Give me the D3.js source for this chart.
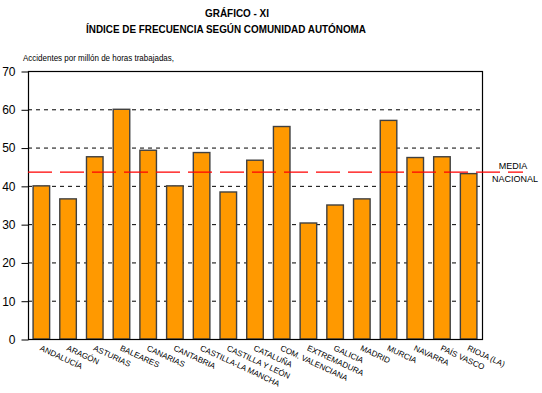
<!DOCTYPE html>
<html lang="es">
<head>
<meta charset="UTF-8">
<title>Gráfico XI</title>
<script src="https://d3js.org/d3.v7.min.js"></script>
<style>
  body { margin: 0; background: #fff; }
  svg { font-family: "Liberation Sans", Arial, sans-serif; display: block; }
  .grid { stroke: #000; stroke-dasharray: 4 4; }
  .bar { fill: #ff9900; stroke: #404040; stroke-width: 1.4px; }
  .media { stroke: #ff0000; stroke-width: 1.3px; stroke-dasharray: 24 8; fill: none; }
</style>
</head>
<body>
<svg></svg>
<script>
const [width, height] = [542, 393]
const margin = {left: 28, right: 60, top: 71, bottom: 54}

const comunidades = ["ANDALUCÍA", "ARAGÓN", "ASTURIAS", "BALEARES", "CANARIAS", "CANTABRIA",
  "CASTILLA-LA MANCHA", "CASTILLA Y LEÓN", "CATALUÑA", "COM. VALENCIANA", "EXTREMADURA",
  "GALICIA", "MADRID", "MURCIA", "NAVARRA", "PAÍS VASCO", "RIOJA (LA)"]
const indice = [40.0, 36.6, 47.6, 60.0, 49.3, 40.0, 48.7, 38.4, 46.7, 55.5, 30.3,
  35.0, 36.6, 57.1, 47.4, 47.6, 43.2]
const media = 43.6
const yTicks = [0, 10, 20, 30, 40, 50, 60, 70]

const svg = d3.select("svg").attr("width", width).attr("height", height)

const x = d3.scaleBand().domain(comunidades)
  .range([margin.left, width - margin.right])
  .paddingInner(0.38).paddingOuter(0.19)
const y = d3.scaleLinear().domain([0, 70]).range([height - margin.bottom, margin.top])

// titles
svg.append("text").attr("x", 237).attr("y", 17).attr("text-anchor", "middle")
  .attr("font-weight", "bold").attr("font-size", 11)
  .attr("textLength", 64).attr("lengthAdjust", "spacingAndGlyphs")
  .text("GRÁFICO - XI")
svg.append("text").attr("x", 226).attr("y", 33).attr("text-anchor", "middle")
  .attr("font-weight", "bold").attr("font-size", 11)
  .attr("textLength", 280).attr("lengthAdjust", "spacingAndGlyphs")
  .text("ÍNDICE DE FRECUENCIA SEGÚN COMUNIDAD AUTÓNOMA")
svg.append("text").attr("x", 23).attr("y", 61).attr("font-size", 9)
  .attr("textLength", 151).attr("lengthAdjust", "spacingAndGlyphs")
  .text("Accidentes por millón de horas trabajadas,")

// grid
svg.selectAll(".grid").data(yTicks.filter(d => d > 0 && d < 70)).join("line")
  .attr("class", "grid")
  .attr("x1", margin.left).attr("x2", width - margin.right)
  .attr("y1", d => y(d) + 0.5).attr("y2", d => y(d) + 0.5)

// bars
svg.selectAll(".bar").data(indice).join("rect")
  .attr("class", "bar")
  .attr("x", (d, i) => x(comunidades[i]))
  .attr("width", x.bandwidth())
  .attr("y", d => y(d))
  .attr("height", d => y(0) - y(d))

// frame
svg.append("rect").attr("x", margin.left + 0.5).attr("y", y(70) + 0.5)
  .attr("width", width - margin.right - margin.left).attr("height", y(0) - y(70))
  .attr("fill", "none").attr("stroke", "#000").attr("stroke-width", 1.2)

// y axis
const yAxis = svg.append("g").attr("transform", `translate(${margin.left + 0.5},0.5)`)
  .call(d3.axisLeft(y).tickValues(yTicks).tickSize(7).tickPadding(6).tickFormat(d3.format("d")))
yAxis.select(".domain").remove()
yAxis.selectAll("text").attr("font-size", 12).attr("font-family", "Liberation Sans, Arial, sans-serif")

// media nacional
svg.append("line").attr("class", "media")
  .attr("x1", margin.left).attr("x2", 523)
  .attr("y1", y(media)).attr("y2", y(media))
svg.append("text").attr("x", 513).attr("y", 169).attr("text-anchor", "middle")
  .attr("font-size", 9).text("MEDIA")
svg.append("text").attr("x", 515).attr("y", 182).attr("text-anchor", "middle")
  .attr("font-size", 9).text("NACIONAL")

// x labels
svg.selectAll(".xl").data(comunidades).join("text")
  .attr("class", "xl").attr("font-size", 8)
  .attr("transform", d => `translate(${x(d) + x.bandwidth() / 2 - 2},${y(0) + 11}) rotate(25)`)
  .text(d => d)
</script>
</body>
</html>
